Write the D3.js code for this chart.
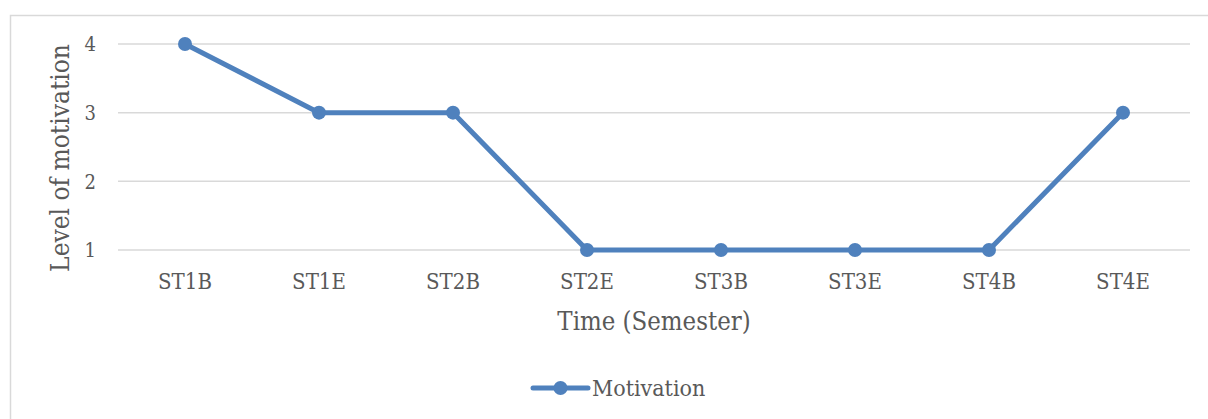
<!DOCTYPE html>
<html>
<head>
<meta charset="utf-8">
<script src="https://cdn.jsdelivr.net/npm/d3@7"></script>
<style>
  body { margin: 0; background: #fff; }
  text { font-family: "DejaVu Serif", "Liberation Serif", serif; fill: #595959; }
  .cond { font-family: "DejaVu Serif Condensed", "DejaVu Serif", serif; font-stretch: condensed; }
</style>
</head>
<body>
<div id="chart"></div>
<script>
var categories = ["ST1B", "ST1E", "ST2B", "ST2E", "ST3B", "ST3E", "ST4B", "ST4E"];
var motivation = [4, 3, 3, 1, 1, 1, 1, 3];
var yTicks = [1, 2, 3, 4];

var width = 1208, height = 419;
var plotLeft = 118, plotRight = 1190, plotTop = 44, plotBottom = 250;
var color = "#4f81bd";

var svg = d3.select("#chart").append("svg")
    .attr("width", width)
    .attr("height", height);

// chart border
svg.append("rect")
    .attr("x", 10.5).attr("y", 15.5)
    .attr("width", 1220).attr("height", 420)
    .attr("fill", "none")
    .attr("stroke", "#d9d9d9")
    .attr("stroke-width", 1.5);

var x = d3.scalePoint()
    .domain(categories)
    .range([plotLeft, plotRight])
    .padding(0.5);

var y = d3.scaleLinear()
    .domain([1, 4])
    .range([plotBottom, plotTop]);

// gridlines
svg.append("g")
    .selectAll("line")
    .data(yTicks)
    .enter()
    .append("line")
    .attr("x1", plotLeft).attr("x2", plotRight)
    .attr("y1", function (d) { return y(d); })
    .attr("y2", function (d) { return y(d); })
    .attr("stroke", "#d9d9d9")
    .attr("stroke-width", 1.5);

// y tick labels
svg.append("g")
    .selectAll("text")
    .data(yTicks)
    .enter()
    .append("text")
    .attr("class", "cond")
    .attr("x", 96)
    .attr("y", function (d) { return y(d); })
    .attr("dy", "0.36em")
    .attr("text-anchor", "end")
    .style("font-size", "20px")
    .text(function (d) { return d; });

// x tick labels
svg.append("g")
    .selectAll("text")
    .data(categories)
    .enter()
    .append("text")
    .attr("class", "cond")
    .attr("x", function (d) { return x(d); })
    .attr("y", 289)
    .attr("text-anchor", "middle")
    .style("font-size", "22px")
    .text(function (d) { return d; });

// axis titles
svg.append("text")
    .attr("class", "cond")
    .attr("x", 654).attr("y", 330)
    .attr("text-anchor", "middle")
    .style("font-size", "25.5px")
    .text("Time (Semester)");

svg.append("text")
    .attr("class", "cond")
    .attr("transform", "translate(69,158) rotate(-90)")
    .attr("text-anchor", "middle")
    .style("font-size", "26px")
    .text("Level of motivation");

// line
var line = d3.line()
    .x(function (d, i) { return x(categories[i]); })
    .y(function (d) { return y(d); });

svg.append("path")
    .datum(motivation)
    .attr("d", line)
    .attr("fill", "none")
    .attr("stroke", color)
    .attr("stroke-width", 5)
    .attr("stroke-linejoin", "round");

svg.append("g")
    .selectAll("circle")
    .data(motivation)
    .enter()
    .append("circle")
    .attr("cx", function (d, i) { return x(categories[i]); })
    .attr("cy", function (d) { return y(d); })
    .attr("r", 7)
    .attr("fill", color);

// legend
var legend = svg.append("g").attr("transform", "translate(533,388)");
legend.append("line")
    .attr("x1", 0).attr("x2", 55)
    .attr("stroke", color)
    .attr("stroke-width", 5)
    .attr("stroke-linecap", "round");
legend.append("circle")
    .attr("cx", 27.5).attr("r", 7)
    .attr("fill", color);
legend.append("text")
    .attr("class", "cond")
    .attr("x", 59)
    .attr("dy", "0.35em")
    .style("font-size", "23px")
    .text("Motivation");
</script>
</body>
</html>
